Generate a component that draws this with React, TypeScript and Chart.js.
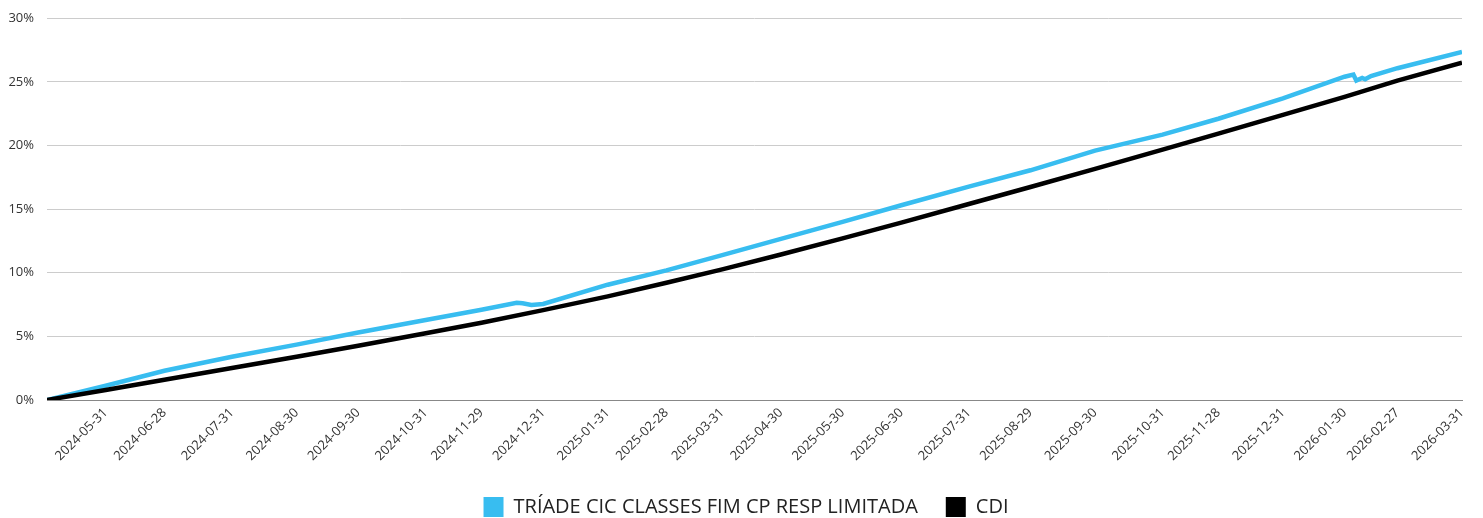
import { useEffect, useRef } from "react";
import { Chart, registerables } from "chart.js";
Chart.register(...registerables);

// business-day index of each month-end tick (0 = first day of the series)
const tickIdx = [20, 40, 63, 85, 106, 129, 148, 169, 191, 211, 230, 250, 271, 291, 314, 335, 357, 380, 399, 421, 442, 460, 482];
const tickLabels = [
  "2024-05-31", "2024-06-28", "2024-07-31", "2024-08-30", "2024-09-30", "2024-10-31",
  "2024-11-29", "2024-12-31", "2025-01-31", "2025-02-28", "2025-03-31", "2025-04-30",
  "2025-05-30", "2025-06-30", "2025-07-31", "2025-08-29", "2025-09-30", "2025-10-31",
  "2025-11-28", "2025-12-31", "2026-01-30", "2026-02-27", "2026-03-31",
];

const cdiDays = [0, 20, 40, 63, 85, 106, 129, 148, 169, 191, 211, 230, 250, 271, 291, 314, 335, 357, 380, 399, 421, 442, 460, 482];
const cdiValues = [0, 0.79, 1.59, 2.51, 3.4, 4.27, 5.24, 6.07, 7.06, 8.14, 9.21, 10.26, 11.43, 12.7, 13.94, 15.4, 16.74, 18.16, 19.67, 20.93, 22.4, 23.82, 25.1, 26.5];

const fundDays = [0, 20, 40, 63, 85, 106, 129, 148, 160, 162, 165, 167, 169, 191, 211, 230, 250, 271, 291, 314, 335, 357, 380, 399, 421, 442, 445, 446, 448, 449, 451, 460, 482];
const fundValues = [0, 1.12, 2.3, 3.4, 4.35, 5.3, 6.28, 7.09, 7.64, 7.6, 7.46, 7.5, 7.55, 9.06, 10.19, 11.39, 12.66, 14.0, 15.3, 16.76, 18.05, 19.6, 20.85, 22.1, 23.7, 25.4, 25.57, 25.1, 25.3, 25.2, 25.45, 26.07, 27.35];

const FUND_LABEL = "TRÍADE CIC CLASSES FIM CP RESP LIMITADA";
const FUND_COLOR = "#38BDF0";
const TEXT_COLOR = "#333333";

const legendShift = {
  id: "legendShift",
  afterLayout(chart: any) {
    const l = chart.legend;
    if (l) {
      l.left += 15;
      l.right += 15;
    }
  },
};

export default function App() {
  const ref = useRef<HTMLCanvasElement>(null);
  useEffect(() => {
    document.body.style.margin = "0";
    Chart.defaults.font.family = "'Open Sans', sans-serif";
    const chart = new Chart(ref.current as HTMLCanvasElement, {
      type: "line",
      plugins: [legendShift],
      data: {
        datasets: [
          {
            label: FUND_LABEL,
            data: fundDays.map((d, i) => ({ x: d, y: fundValues[i] })),
            borderColor: FUND_COLOR,
            backgroundColor: FUND_COLOR,
            borderWidth: 4.5,
            pointRadius: 0,
            tension: 0,
            order: 2,
          },
          {
            label: "CDI",
            data: cdiDays.map((d, i) => ({ x: d, y: cdiValues[i] })),
            borderColor: "#000000",
            backgroundColor: "#000000",
            borderWidth: 4.5,
            pointRadius: 0,
            tension: 0,
            order: 1,
          },
        ],
      },
      options: {
        animation: false,
        responsive: false,
        maintainAspectRatio: false,
        layout: { padding: { left: 0, right: 21, top: 8, bottom: -9 } },
        scales: {
          x: {
            type: "linear",
            min: 0,
            max: 482,
            grid: { display: false, drawTicks: false },
            border: { display: true, color: "#888888", width: 1 },
            afterBuildTicks: (axis: any) => {
              axis.ticks = tickIdx.map((v) => ({ value: v }));
            },
            ticks: {
              autoSkip: false,
              minRotation: 45,
              maxRotation: 45,
              padding: 5,
              color: TEXT_COLOR,
              font: { size: 13 },
              callback: (v: any) => {
                const i = tickIdx.indexOf(Number(v));
                return i >= 0 ? tickLabels[i] : "";
              },
            },
          },
          y: {
            min: 0,
            max: 30,
            afterFit: (axis: any) => {
              axis.width = 47;
            },
            ticks: {
              stepSize: 5,
              padding: 13,
              color: TEXT_COLOR,
              font: { size: 13, lineHeight: 0.8 },
              callback: (v: any) => v + "%",
            },
            grid: { color: "#cccccc", drawTicks: false },
            border: { display: false },
          },
        },
        plugins: {
          legend: {
            position: "bottom",
            labels: {
              boxWidth: 20,
              boxHeight: 20,
              padding: 28,
              color: "#222222",
              font: { size: 20 },
              generateLabels: (c: any) =>
                c.data.datasets.map((ds: any, i: number) => ({
                  text: ds.label,
                  fillStyle: ds.borderColor,
                  strokeStyle: ds.borderColor,
                  lineWidth: 0,
                  hidden: false,
                  datasetIndex: i,
                  fontColor: "#222222",
                })),
            },
          },
          tooltip: { enabled: false },
        },
      },
    });
    return () => chart.destroy();
  }, []);
  return <canvas ref={ref} width={1483} height={518} style={{ display: "block" }} />;
}
